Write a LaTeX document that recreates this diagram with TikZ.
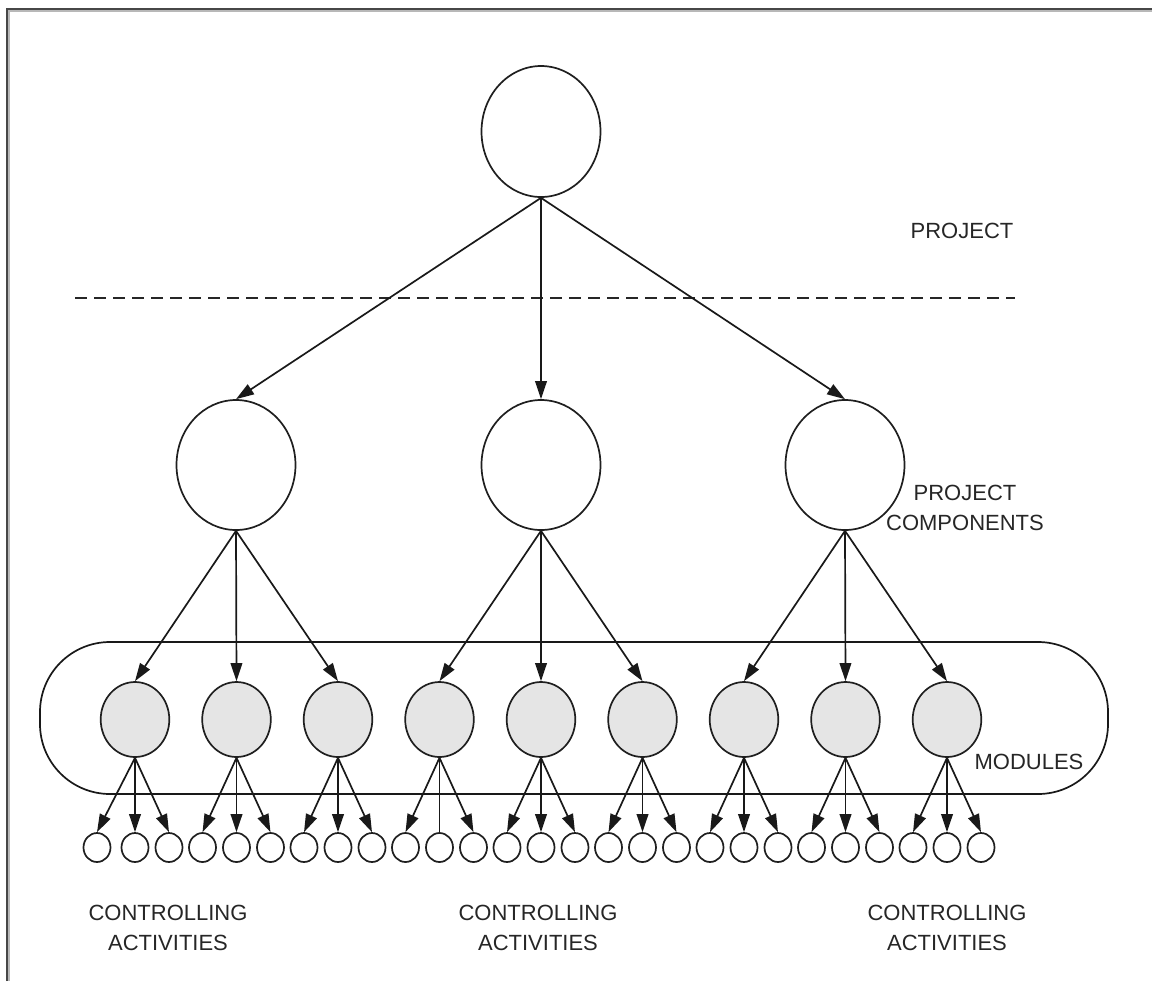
\documentclass[tikz,border=0pt]{standalone}
\usepackage{fontspec}
\setmainfont{Liberation Sans}
\usetikzlibrary{shapes.geometric,arrows.meta}
\begin{document}
\begin{tikzpicture}[x=0.5pt,y=-0.5pt,
  conn/.style={draw=black!90, line width=0.85pt},
  arr/.style={conn,-{Triangle[length=9pt,width=5.8pt]}},
  bigc/.style={ellipse,draw=black!88,line width=0.85pt,fill=white,minimum width=59.5pt,minimum height=65pt,inner sep=0pt},
  modc/.style={ellipse,draw=black!88,line width=0.85pt,fill=black!10,minimum width=34.3pt,minimum height=37.5pt,inner sep=0pt},
  leafc/.style={ellipse,draw=black!88,line width=0.85pt,fill=white,minimum width=13.5pt,minimum height=14.5pt,inner sep=0pt},
  lbl/.style={font=\fontsize{11}{15}\selectfont, text=black!85, align=center, inner sep=0pt},
  framedark/.style={draw=black!72, line width=1.1pt},
  framelight/.style={draw=black!28, line width=1.2pt}
]
\useasboundingbox (0,0) rectangle (1152,981);
% frame
\draw[framelight] (8.5,981) -- (8.5,10.5) -- (1152,10.5);
\draw[framedark] (7,981) -- (7,9) -- (1152,9);

% dashed separator
\draw[draw=black!85, line width=0.85pt, dash pattern=on 6pt off 3.5pt] (75,298) -- (1015,298);

% module container
\node[draw=black!90, line width=0.85pt, rounded corners=35pt, minimum width=534pt, minimum height=76pt, inner sep=0pt] (modbox) at (574,718) {};

% top node
\node[bigc, minimum height=65.5pt] (top) at (541,131.5) {};

% components
\node[bigc] (c1) at (236,465) {};
\node[bigc] (c2) at (541,465) {};
\node[bigc] (c3) at (845,465) {};

\foreach \i in {1,2,3} \draw[arr] (top.south) -- (c\i.north);

% modules
\foreach \i/\mx in {1/135,2/236.5,3/338,4/439.5,5/541,6/642.5,7/744,8/845.5,9/947}{
  \node[modc] (m\i) at (\mx,719.5) {};
}
\foreach \c/\a/\b/\d in {1/1/2/3,2/4/5/6,3/7/8/9}{
  \draw[arr] (c\c.south) -- (m\a.north);
  \draw[arr] (c\c.south) -- (m\b.north);
  \draw[arr] (c\c.south) -- (m\d.north);
}

% leaves
\foreach \i/\mx in {1/135,2/236.5,3/338,4/439.5,5/541,6/642.5,7/744,8/845.5,9/947}{
  \ifnum\i=1
    \node[leafc] (l\i a) at (\mx-38,847.5) {};
  \else
    \node[leafc] (l\i a) at (\mx-34,847.5) {};
  \fi
  \node[leafc] (l\i b) at (\mx,847.5) {};
  \node[leafc] (l\i c) at (\mx+34,847.5) {};
  \draw[arr] (m\i.south) -- (l\i a.north);
  \draw[arr] (m\i.south) -- (l\i c.north);
  \ifnum\i=4
    \draw[conn] (m\i.south) -- (l\i b.north);
  \else
    \draw[arr] (m\i.south) -- (l\i b.north);
  \fi
}

% labels
\node[lbl] (lproj) at (962,231) {PROJECT};
\node[lbl] (lcomp) at (965,508) {PROJECT\\COMPONENTS};
\node[lbl] (lmod) at (1029,762) {MODULES};
\node[lbl] (lca1) at (168,928) {CONTROLLING\\ACTIVITIES};
\node[lbl] (lca2) at (538,928) {CONTROLLING\\ACTIVITIES};
\node[lbl] (lca3) at (947,928) {CONTROLLING\\ACTIVITIES};
\end{tikzpicture}
\end{document}
